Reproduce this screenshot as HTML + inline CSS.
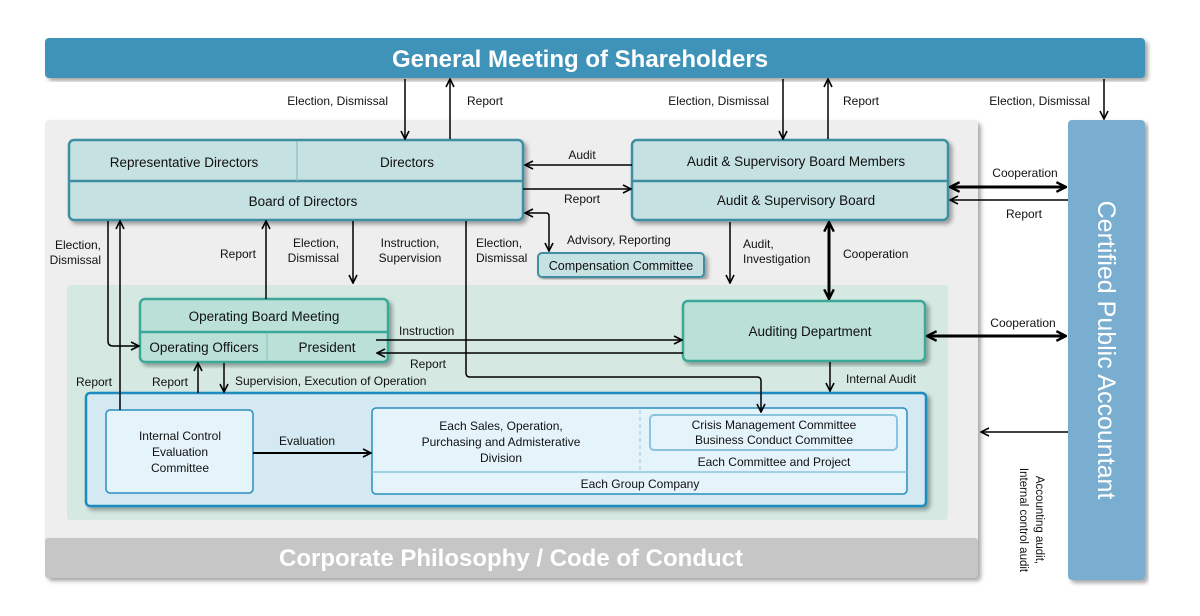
<!DOCTYPE html>
<html><head><meta charset="utf-8"><style>
html,body{margin:0;padding:0;background:#fff;}
svg{display:block;font-family:"Liberation Sans Narrow","Liberation Sans",sans-serif;}
</style></head><body>
<svg width="1200" height="616" viewBox="0 0 1200 616" xmlns="http://www.w3.org/2000/svg">
<defs>
<marker id="a" viewBox="0 0 10 10" refX="9" refY="5" markerWidth="10" markerHeight="10" markerUnits="userSpaceOnUse" orient="auto-start-reverse"><path d="M1,1 L9,5 L1,9" fill="none" stroke="#000" stroke-width="1.6"/></marker>
<marker id="b" viewBox="0 0 10 10" refX="9" refY="5" markerWidth="12" markerHeight="12" markerUnits="userSpaceOnUse" orient="auto-start-reverse"><path d="M1,1 L9,5 L1,9" fill="none" stroke="#000" stroke-width="2"/></marker>
<filter id="s" x="-5%" y="-5%" width="110%" height="115%"><feDropShadow dx="3" dy="3" stdDeviation="2" flood-color="#000" flood-opacity="0.35"/></filter>
</defs>
<rect x="45" y="38" width="1100" height="40" rx="4" fill="#3f93b8" filter="url(#s)"/>
<text x="580" y="67" text-anchor="middle" font-size="24" font-weight="bold" fill="#fff">General Meeting of Shareholders</text>
<rect x="45" y="120" width="933" height="458" rx="4" fill="#eeeeee" filter="url(#s)"/>
<rect x="45" y="538" width="933" height="40" rx="3" fill="#c6c6c6"/>
<text x="511" y="566" text-anchor="middle" font-size="24" font-weight="bold" fill="#fff">Corporate Philosophy / Code of Conduct</text>
<rect x="1068" y="120" width="77" height="460" rx="4" fill="#7aaed0" filter="url(#s)"/>
<text transform="translate(1098,350) rotate(90)" text-anchor="middle" font-size="25" fill="#fff">Certified Public Accountant</text>
<rect x="67" y="285" width="881" height="235" rx="3" fill="#d5e9e2"/>
<rect x="69" y="140" width="454" height="80" rx="5" fill="#c6e1e1" stroke="#3f8ea2" stroke-width="2.5" filter="url(#s)"/>
<line x1="69" y1="181" x2="523" y2="181" stroke="#3f8ea2" stroke-width="2.5"/>
<line x1="297" y1="141" x2="297" y2="181" stroke="#8fbcc6" stroke-width="1.2"/>
<text x="184" y="167" text-anchor="middle" font-size="13.5" fill="#111">Representative Directors</text>
<text x="407" y="167" text-anchor="middle" font-size="13.5" fill="#111">Directors</text>
<text x="303" y="206" text-anchor="middle" font-size="13.5" fill="#111">Board of Directors</text>
<rect x="632" y="140" width="316" height="80" rx="5" fill="#c6e1e1" stroke="#3f8ea2" stroke-width="2.5" filter="url(#s)"/>
<line x1="632" y1="181" x2="948" y2="181" stroke="#3f8ea2" stroke-width="2.5"/>
<text x="796" y="166" text-anchor="middle" font-size="13.5" fill="#111">Audit &amp; Supervisory Board Members</text>
<text x="796" y="205" text-anchor="middle" font-size="13.5" fill="#111">Audit &amp; Supervisory Board</text>
<rect x="538" y="253" width="166" height="24" rx="4" fill="#c6e1e1" stroke="#3f8ea2" stroke-width="2" filter="url(#s)"/>
<text x="621" y="270" text-anchor="middle" font-size="12.5" fill="#111">Compensation Committee</text>
<rect x="140" y="299" width="248" height="63" rx="5" fill="#bae0d8" stroke="#3aa89a" stroke-width="2.5" filter="url(#s)"/>
<line x1="140" y1="332" x2="388" y2="332" stroke="#3aa89a" stroke-width="2.5"/>
<line x1="267" y1="333" x2="267" y2="361" stroke="#8cc9bd" stroke-width="1.2"/>
<text x="264" y="321" text-anchor="middle" font-size="13.5" fill="#111">Operating Board Meeting</text>
<text x="204" y="352" text-anchor="middle" font-size="13.5" fill="#111">Operating Officers</text>
<text x="327" y="352" text-anchor="middle" font-size="13.5" fill="#111">President</text>
<rect x="683" y="301" width="242" height="60" rx="5" fill="#bae0d8" stroke="#3aa89a" stroke-width="2.5" filter="url(#s)"/>
<text x="810" y="336" text-anchor="middle" font-size="13.5" fill="#111">Auditing Department</text>
<rect x="86" y="393" width="840" height="113" rx="4" fill="#d4e9f2" stroke="#1a8bbf" stroke-width="2.5" filter="url(#s)"/>
<rect x="106" y="410" width="147" height="83" rx="4" fill="#e5f3fb" stroke="#2a8ec0" stroke-width="1.5"/>
<text x="180" y="440" text-anchor="middle" font-size="12" fill="#111">Internal Control</text>
<text x="180" y="456" text-anchor="middle" font-size="12" fill="#111">Evaluation</text>
<text x="180" y="472" text-anchor="middle" font-size="12" fill="#111">Committee</text>
<rect x="372" y="408" width="535" height="86" rx="4" fill="#e5f3fb" stroke="#2a8ec0" stroke-width="1.5"/>
<line x1="372" y1="472" x2="907" y2="472" stroke="#8cc4dc" stroke-width="1.5"/>
<line x1="640" y1="410" x2="640" y2="471" stroke="#9cc4d6" stroke-width="1" stroke-dasharray="4,3"/>
<rect x="650" y="415" width="247" height="35" rx="4" fill="#e5f3fb" stroke="#8cc4dc" stroke-width="2"/>
<text x="501" y="430" text-anchor="middle" font-size="12" fill="#111">Each Sales, Operation,</text>
<text x="501" y="446" text-anchor="middle" font-size="12" fill="#111">Purchasing and Admisterative</text>
<text x="501" y="462" text-anchor="middle" font-size="12" fill="#111">Division</text>
<text x="774" y="429" text-anchor="middle" font-size="12" fill="#111">Crisis Management Committee</text>
<text x="774" y="444" text-anchor="middle" font-size="12" fill="#111">Business Conduct Committee</text>
<text x="774" y="466" text-anchor="middle" font-size="12" fill="#111">Each Committee and Project</text>
<text x="640" y="488" text-anchor="middle" font-size="12" fill="#111">Each Group Company</text>

<g stroke="#000" stroke-width="1.5" fill="none">
<line x1="405" y1="79" x2="405" y2="139" marker-end="url(#a)"/>
<line x1="450" y1="139" x2="450" y2="79" marker-end="url(#a)"/>
<line x1="783" y1="79" x2="783" y2="139" marker-end="url(#a)"/>
<line x1="828" y1="139" x2="828" y2="79" marker-end="url(#a)"/>
<line x1="1104" y1="79" x2="1104" y2="119" marker-end="url(#a)"/>
<line x1="632" y1="165" x2="525" y2="165" marker-end="url(#a)"/>
<line x1="523" y1="189" x2="631" y2="189" marker-end="url(#a)"/>
<path d="M525,213 H546 Q549,213 549,216 V251" marker-start="url(#a)" marker-end="url(#a)"/>
<line x1="950" y1="187" x2="1066" y2="187" stroke-width="3" marker-start="url(#b)" marker-end="url(#b)"/>
<line x1="1068" y1="200" x2="950" y2="200" marker-end="url(#a)"/>
<line x1="730" y1="222" x2="730" y2="283" marker-end="url(#a)"/>
<line x1="829" y1="222" x2="829" y2="299" stroke-width="3" marker-start="url(#b)" marker-end="url(#b)"/>
<line x1="927" y1="336" x2="1066" y2="336" stroke-width="3" marker-start="url(#b)" marker-end="url(#b)"/>
<line x1="830" y1="362" x2="830" y2="391" marker-end="url(#a)"/>
<line x1="376" y1="340" x2="682" y2="340" marker-end="url(#a)"/>
<line x1="683" y1="353" x2="377" y2="353" marker-end="url(#a)"/>
<path d="M466,221 V373 Q466,377 470,377 H757 Q761,377 761,381 V412" marker-end="url(#a)"/>
<line x1="353" y1="221" x2="353" y2="283" marker-end="url(#a)"/>
<line x1="266" y1="299" x2="266" y2="221" marker-end="url(#a)"/>
<path d="M108,221 V341 Q108,346 113,346 H139" marker-end="url(#a)"/>
<line x1="120" y1="410" x2="120" y2="221" marker-end="url(#a)"/>
<line x1="198" y1="393" x2="198" y2="363" marker-end="url(#a)"/>
<line x1="224" y1="363" x2="224" y2="392" marker-end="url(#a)"/>
<line x1="253" y1="453" x2="371" y2="453" stroke-width="2" marker-end="url(#a)"/>
<line x1="1068" y1="432" x2="981" y2="432" marker-end="url(#a)"/>
</g>

<g font-size="12" fill="#111">
<text x="388" y="105" text-anchor="end">Election, Dismissal</text>
<text x="467" y="105">Report</text>
<text x="769" y="105" text-anchor="end">Election, Dismissal</text>
<text x="843" y="105">Report</text>
<text x="1090" y="105" text-anchor="end">Election, Dismissal</text>
<text x="582" y="159" text-anchor="middle">Audit</text>
<text x="582" y="203" text-anchor="middle">Report</text>
<text x="567" y="244">Advisory, Reporting</text>
<text x="1025" y="177" text-anchor="middle">Cooperation</text>
<text x="1024" y="218" text-anchor="middle">Report</text>
<text x="743" y="248">Audit,</text>
<text x="743" y="263">Investigation</text>
<text x="843" y="258">Cooperation</text>
<text x="1023" y="327" text-anchor="middle">Cooperation</text>
<text x="846" y="383">Internal Audit</text>
<text x="399" y="335">Instruction</text>
<text x="410" y="368">Report</text>
<text x="476" y="247">Election,</text>
<text x="476" y="262">Dismissal</text>
<text x="339" y="247" text-anchor="end">Election,</text>
<text x="339" y="262" text-anchor="end">Dismissal</text>
<text x="410" y="247" text-anchor="middle">Instruction,</text>
<text x="410" y="262" text-anchor="middle">Supervision</text>
<text x="238" y="258" text-anchor="middle">Report</text>
<text x="101" y="249" text-anchor="end">Election,</text>
<text x="101" y="264" text-anchor="end">Dismissal</text>
<text x="94" y="386" text-anchor="middle">Report</text>
<text x="170" y="386" text-anchor="middle">Report</text>
<text x="235" y="385">Supervision, Execution of Operation</text>
<text x="307" y="445" text-anchor="middle">Evaluation</text>
<text transform="translate(1036,520) rotate(90)" text-anchor="middle" font-size="11.5">Accounting audit,</text>
<text transform="translate(1020,520) rotate(90)" text-anchor="middle" font-size="11.5">Internal control audit</text>
</g>
</svg>
</body></html>
